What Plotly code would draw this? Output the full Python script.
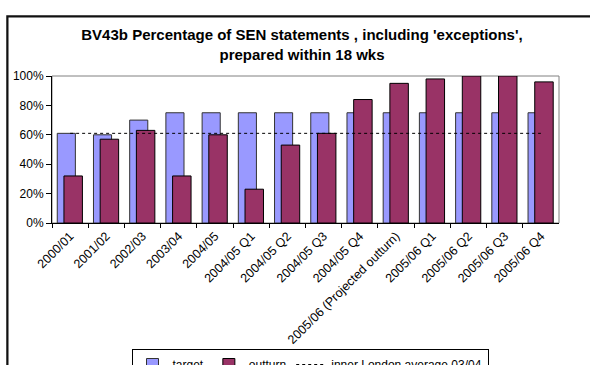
import plotly.graph_objects as go

categories = ["2000/01", "2001/02", "2002/03", "2003/04", "2004/05",
              "2004/05 Q1", "2004/05 Q2", "2004/05 Q3", "2004/05 Q4",
              "2005/06 (Projected outturn)", "2005/06 Q1", "2005/06 Q2",
              "2005/06 Q3", "2005/06 Q4"]
target = [61, 60, 70, 75, 75, 75, 75, 75, 75, 75, 75, 75, 75, 75]
outturn = [32, 57, 63, 32, 60, 23, 53, 61, 84, 95, 98, 100, 100, 96]
inner_london_avg = 61
y_ticks = [0, 20, 40, 60, 80, 100]
y_tick_labels = ["0%", "20%", "40%", "60%", "80%", "100%"]

FONT = "Arial, Liberation Sans, sans-serif"
W, H = 590, 365
# outer chart-area frame (pixels)
ML, MT = 7, 16
PW, PH = W - ML, H - MT
# plot area (pixels)
PL, PR, PT, PB = 52, 559, 76, 223


def fx(px):
    return (px - ML) / PW


def fy(py):
    return (H - py) / PH


fig = go.Figure()
fig.add_trace(go.Bar(
    x=categories, y=target, name="target",
    marker=dict(color="#9999FF", line=dict(color="#333333", width=1)),
    offset=-0.355, width=0.5,
))
fig.add_trace(go.Bar(
    x=categories, y=outturn, name="outturn",
    marker=dict(color="#993366", line=dict(color="#000000", width=1)),
    offset=-0.17, width=0.51,
))
fig.add_trace(go.Scatter(
    x=categories, y=[inner_london_avg] * len(categories),
    name="inner London average 03/04", mode="lines",
    line=dict(color="black", width=1, dash="dot"),
))

fig.update_layout(
    width=W, height=H,
    margin=dict(l=ML, r=0, t=MT, b=0, pad=0, autoexpand=False),
    paper_bgcolor="white", plot_bgcolor="white",
    barmode="overlay",
    font=dict(family=FONT, size=12, color="black"),
    title=dict(
        text="<b>BV43b Percentage of SEN statements , including 'exceptions',<br>prepared within 18 wks</b>",
        font=dict(family=FONT, size=15, color="black"),
        x=302 / W, xanchor="center", xref="container",
        y=1 - 40 / H, yanchor="top", yref="container",
    ),
    xaxis=dict(
        domain=[fx(PL), fx(PR)],
        type="category", tickson="boundaries", ticks="outside", ticklen=4,
        tickcolor="black", showline=True, linecolor="black", linewidth=1,
        tickangle=-45, showgrid=False, range=[-0.5, len(categories) - 0.5],
        automargin=False,
        tickfont=dict(family=FONT, size=12.5, color="black"),
    ),
    yaxis=dict(
        domain=[fy(PB), fy(PT)],
        range=[0, 100], tickvals=y_ticks, ticktext=y_tick_labels,
        ticks="outside", ticklen=5, tickcolor="black",
        showline=True, linecolor="black", linewidth=1,
        showgrid=False, zeroline=False, automargin=False,
        tickfont=dict(family=FONT, size=12, color="black"),
    ),
    legend=dict(
        orientation="h", x=fx(310), xanchor="center",
        y=fy(349), yanchor="top",
        bordercolor="black", borderwidth=1, bgcolor="white",
        font=dict(family=FONT, size=12, color="black"),
        traceorder="normal",
    ),
    showlegend=True,
    shapes=[
        dict(type="rect", xref="x domain", yref="y domain",
             x0=0, x1=1, y0=0, y1=1,
             line=dict(color="#808080", width=1), layer="below"),
        dict(type="rect", xref="paper", yref="paper",
             x0=0, x1=1.02, y0=-0.02, y1=1,
             line=dict(color="#111111", width=1.5), layer="above"),
    ],
    annotations=[
        dict(text=" ", xref="paper", yref="paper", x=0, y=1,
             xanchor="left", yanchor="top", showarrow=False,
             width=600, height=360, borderpad=0,
             bordercolor="#111111", borderwidth=1.5),
    ],
)

fig.write_html("out.html", config={"displayModeBar": False})
